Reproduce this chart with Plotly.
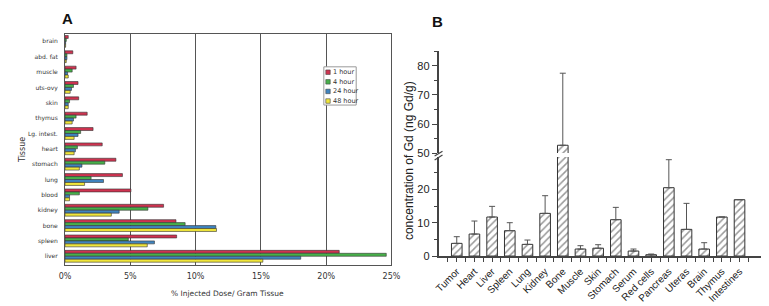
import plotly.graph_objects as go

W, H = 769, 306
def px(x): return x / W
def py(y): return 1 - y / H

# ---------------- Panel A data ----------------
tissues_a = ["brain", "abd. fat", "muscle", "uts-ovy", "skin", "thymus", "Lg. intest.",
             "heart", "stomach", "lung", "blood", "kidney", "bone", "spleen", "liver"]
series_names = ["1 hour", "4 hour", "24 hour", "48 hour"]
series_colors = ["#cf3350", "#47b04a", "#3f84bf", "#f0e63a"]
dose_1h = [0.25, 0.6, 0.85, 1.0, 1.05, 1.7, 2.15, 2.85, 3.9, 4.4, 5.05, 7.55, 8.5, 8.55, 21.0]
dose_4h = [0.1, 0.15, 0.55, 0.65, 0.35, 0.85, 1.2, 0.95, 3.05, 2.0, 1.1, 6.35, 9.2, 4.85, 24.6]
dose_24h = [0.05, 0.15, 0.2, 0.5, 0.25, 0.65, 1.0, 0.8, 1.3, 2.95, 0.35, 4.15, 11.55, 6.85, 18.05]
dose_48h = [0.05, 0.1, 0.25, 0.4, 0.25, 0.55, 0.7, 0.7, 1.1, 1.5, 0.35, 3.55, 11.6, 6.3, 15.15]
x_ticks_a = [0, 5, 10, 15, 20, 25]
x_ticklabels_a = ["0%", "5%", "10%", "15%", "20%", "25%"]

# ---------------- Panel B data ----------------
tissues_b = ["Tumor", "Heart", "Liver", "Spleen", "Lung", "Kidney", "Bone", "Muscle", "Skin",
             "Stomach", "Serum", "Red cells", "Pancreas", "Uteras", "Brain", "Thymus", "Intestines"]
gd_mean = [3.8, 6.6, 11.7, 7.6, 3.5, 12.8, 52.7, 2.1, 2.35, 10.9, 1.5, 0.4, 20.5, 8.0, 2.1, 11.7, 16.9]
gd_err = [2.0, 3.9, 3.2, 2.4, 1.3, 5.3, 24.8, 1.0, 1.05, 3.7, 0.6, 0.2, 8.4, 7.8, 1.9, None, None]
y_ticks_low = [0, 10, 20]
y_ticks_high = [50, 60, 70, 80]

fig = go.Figure()

for name, color, vals in zip(series_names, series_colors, [dose_1h, dose_4h, dose_24h, dose_48h]):
    fig.add_trace(go.Bar(
        y=tissues_a, x=vals, orientation="h", name=name, showlegend=False,
        marker=dict(color=color, line=dict(color="#333333", width=0.6)),
        xaxis="x", yaxis="y",
    ))

bar_style = dict(color="white", line=dict(color="#333333", width=1),
                 pattern=dict(shape="/", fgcolor="#333333", bgcolor="white", size=5, solidity=0.3))
err_style = dict(type="data", array=gd_err, symmetric=False,
                 arrayminus=[0] * len(gd_err), color="#555555", thickness=1, width=3)

xb = list(range(len(tissues_b)))
fig.add_trace(go.Bar(x=xb, y=gd_mean, width=0.6, marker=bar_style, error_y=err_style,
                     showlegend=False, xaxis="x2", yaxis="y2"))
fig.add_trace(go.Bar(x=xb, y=gd_mean, width=0.6, marker=bar_style, error_y=err_style,
                     showlegend=False, xaxis="x3", yaxis="y3"))

line_col = "#555555"
xb_range = [-1.03, 17.5]
fig.update_layout(
    width=W, height=H, margin=dict(l=0, r=0, t=0, b=0),
    paper_bgcolor="white", plot_bgcolor="white",
    barmode="group", bargap=0.23, bargroupgap=0,
    font=dict(family="DejaVu Sans", color="#222222"),
    showlegend=False,
    xaxis=dict(domain=[px(52), px(385)], range=[0, 25], tickvals=x_ticks_a, ticktext=x_ticklabels_a,
               showgrid=True, gridcolor=line_col, gridwidth=1, showline=True, mirror=True,
               linecolor=line_col, linewidth=1, zeroline=False, ticks="",
               tickfont=dict(size=8, color="#333333"), ticklabelstandoff=4, anchor="y"),
    yaxis=dict(domain=[py(262), py(27)], type="category", categoryarray=tissues_a,
               range=[14.56, -0.45], showline=True, mirror=True, linecolor=line_col, linewidth=1,
               showgrid=False, ticks="", tickfont=dict(size=6, color="#333333"),
               ticklabelstandoff=5, anchor="x"),
    xaxis2=dict(domain=[px(433), px(767)], range=xb_range, tickmode="array", tickvals=xb,
                ticktext=tissues_b, tickangle=-45, ticks="outside", ticklen=4, tickcolor="#444",
                minor=dict(ticks="outside", tickmode="linear", tick0=0.5, dtick=1, ticklen=4, tickcolor="#444"),
                showline=True, linecolor="#444444", linewidth=1.5, showgrid=False, zeroline=False,
                tickfont=dict(family="Liberation Sans", size=10, color="#222"), anchor="y2"),
    yaxis2=dict(domain=[py(253), py(152)], range=[0, 29.7], tickvals=y_ticks_low,
                ticks="outside", ticklen=5, tickcolor="#444",
                minor=dict(ticks="outside", tickmode="linear", tick0=5, dtick=10, ticklen=3, tickcolor="#444"),
                showline=True, linecolor="#444444", linewidth=1.5, showgrid=False, zeroline=False,
                tickfont=dict(family="Liberation Sans", size=11, color="#222"), anchor="x2"),
    xaxis3=dict(domain=[px(433), px(767)], range=xb_range, visible=False, anchor="y3"),
    yaxis3=dict(domain=[py(148), py(44)], range=[50, 85.1], tickvals=y_ticks_high,
                ticks="outside", ticklen=5, tickcolor="#444",
                minor=dict(ticks="outside", tickmode="linear", tick0=55, dtick=10, ticklen=3, tickcolor="#444"),
                showline=True, linecolor="#444444", linewidth=1.5, showgrid=False, zeroline=False,
                tickfont=dict(family="Liberation Sans", size=11, color="#222"), anchor="x3"),
)

annots = [
    dict(text="<b>A</b>", x=px(55), y=py(11), font=dict(family="Liberation Sans", size=15, color="#111")),
    dict(text="<b>B</b>", x=px(432), y=py(14), font=dict(family="Liberation Sans", size=15, color="#111")),
    dict(text="% Injected Dose/ Gram Tissue", x=px(218), y=py(291), font=dict(size=7.5, color="#333")),
    dict(text="Tissue", x=px(8), y=py(145), textangle=-90, font=dict(size=8, color="#333")),
    dict(text="concentration of Gd (ng Gd/g)", x=px(403), y=py(156), textangle=-90,
         font=dict(family="Liberation Sans", size=12, color="#222")),
]
for a in annots:
    fig.add_annotation(xref="paper", yref="paper", showarrow=False, xanchor="center", yanchor="middle", **a)

# compact legend box for panel A (built from the series names / colours)
fig.add_shape(type="rect", xref="paper", yref="paper", x0=px(316), x1=px(349), y0=py(99), y1=py(60),
              line=dict(color="#999999", width=1), fillcolor="white", layer="above")
for i, (name, color) in enumerate(zip(series_names, series_colors)):
    yc = 65.5 + i * 9.8
    fig.add_shape(type="rect", xref="paper", yref="paper", x0=px(318), x1=px(322.5),
                  y0=py(yc + 2.3), y1=py(yc - 2.3), fillcolor=color,
                  line=dict(color="#444444", width=0.6), layer="above")
    fig.add_annotation(xref="paper", yref="paper", x=px(323.5), y=py(yc), text=name, showarrow=False,
                       xanchor="left", yanchor="middle", font=dict(size=6.5, color="#333"))

# axis break marks
for dy in (0, 4):
    fig.add_shape(type="line", xref="paper", yref="paper",
                  x0=px(429), y0=py(151 + dy), x1=px(437), y1=py(146 + dy),
                  line=dict(color="#444444", width=1.2))

fig.write_html("out.html")
